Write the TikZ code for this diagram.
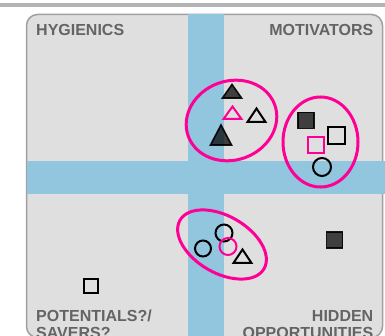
\documentclass[tikz,border=0pt]{standalone}
\usepackage{fontspec}
\setmainfont{Liberation Sans}
\definecolor{band}{RGB}{146,197,222}
\definecolor{panelfill}{RGB}{223,223,223}
\definecolor{panelline}{RGB}{160,160,160}
\definecolor{topline}{RGB}{180,180,180}
\definecolor{hot}{RGB}{255,0,150}
\definecolor{lbl}{RGB}{100,100,100}
\tikzset{
  lab/.style={inner sep=0pt, text=lbl, font=\fontsize{16}{17}\selectfont\bfseries},
  ring/.style={draw=hot, line width=3pt},
  blk/.style={draw=black, line width=2pt, line join=miter},
  pnk/.style={draw=hot, line width=2pt, line join=miter},
  dark/.style={draw=black, line width=1.6pt, fill=black, fill opacity=0.72, draw opacity=0.9, line join=miter},
}
\begin{document}
\begin{tikzpicture}[x=1pt,y=-1pt]
\useasboundingbox (0,0) rectangle (385,336);
\clip (0,0) rectangle (385,336);
\fill[white] (0,0) rectangle (385,336);
% top line
\fill[topline] (0,3.5) rectangle (385,7.5);
% panel
\draw[panelline, fill=panelfill, line width=1.5pt, rounded corners=11pt] (26.5,14.5) rectangle (382.5,337.5);
% bands
\fill[band] (188,13.8) rectangle (224,340);
\fill[band] (26.8,161) rectangle (386,194);
% labels
\node[lab, anchor=base west] (hyg) at (36,36) {HYGIENICS};
\node[lab, anchor=base east] (mot) at (373.5,36) {MOTIVATORS};
\node[lab, anchor=base west] (pot) at (36,321) {POTENTIALS?/};
\node[lab, anchor=base west] (sav) at (36,338) {SAVERS?};
\node[lab, anchor=base east] (hid) at (373.5,321) {HIDDEN};
\node[lab, anchor=base east] (opp) at (373.5,338) {OPPORTUNITIES};
% ellipses
\draw[ring, rotate around={20:(231.5,120.5)}] (231.5,120.5) ellipse [x radius=46, y radius=39.5];
\draw[ring] (320.5,142) ellipse [x radius=37.5, y radius=45];
\draw[ring, rotate around={-30:(222,244.5)}] (222,244.5) ellipse [x radius=48.5, y radius=28.5];
% triangles
\draw[dark] (232,84.5) -- (241.5,98) -- (222.5,98) -- cycle;
\draw[pnk] (232.5,106.5) -- (241.5,119) -- (223.5,119) -- cycle;
\draw[blk] (256.5,108.5) -- (265.5,122) -- (247.5,122) -- cycle;
\draw[dark] (221,125) -- (231.5,145) -- (210.5,145) -- cycle;
\draw[blk] (242.5,249.5) -- (251.5,263) -- (233.5,263) -- cycle;
% squares
\draw[dark] (298,112.5) rectangle (314,128.5);
\draw[blk] (328,127.5) rectangle (345,144.5);
\draw[pnk] (308,137.5) rectangle (324,153.5);
\draw[dark] (326.5,232) rectangle (342.5,248);
\draw[blk] (83.5,279) rectangle (97.5,293);
% circles
\draw[blk] (322,167) circle [radius=9];
\draw[blk] (224,233) circle [radius=8.5];
\draw[blk] (203,248.5) circle [radius=8];
\draw[pnk] (228,246.5) circle [radius=8.5];
\end{tikzpicture}
\end{document}
